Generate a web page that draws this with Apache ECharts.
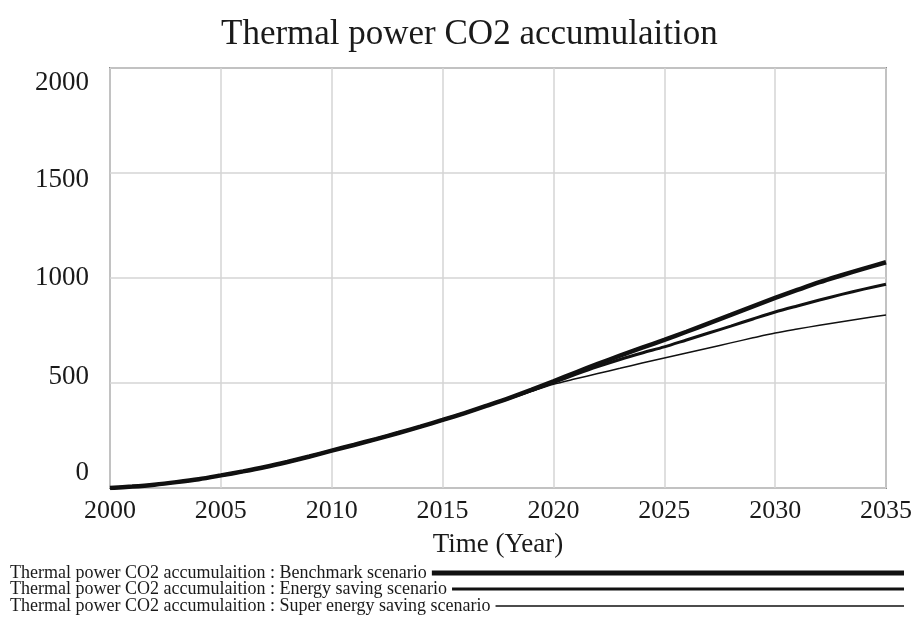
<!DOCTYPE html>
<html>
<head>
<meta charset="utf-8">
<script src="https://cdn.jsdelivr.net/npm/echarts@6/dist/echarts.min.js"></script>
<style>html,body{margin:0;padding:0;background:#fff;}#c{width:915px;height:619px;}</style>
</head>
<body>
<div id="c"></div>
<script>
const years = [2000,2001,2002,2003,2004,2005,2006,2007,2008,2009,2010,2011,2012,2013,2014,2015,2016,2017,2018,2019,2020,2021,2022,2023,2024,2025,2026,2027,2028,2029,2030,2031,2032,2033,2034,2035];
const benchmark = [0,7,16,28,42,60,79,100,124,150,178,205,233,262,292,324,357,392,428,467,508,550,591,630,668,705,744,784,824,865,905,943,980,1013,1045,1075];
const energySaving = [0,7,16,28,42,60,79,100,124,150,178,205,233,262,292,324,357,392,427,464,502,541,578,612,643,672,705,738,771,805,838,867,895,922,947,970];
const superSaving = [0,7,16,28,42,60,79,100,124,150,178,205,233,262,292,324,357,392,425,460,494,520,545,570,595,619,643,667,691,715,738,757,775,792,808,824];
const seriesNames = [
  'Thermal power CO2 accumulaition : Benchmark scenario',
  'Thermal power CO2 accumulaition : Energy saving scenario',
  'Thermal power CO2 accumulaition : Super energy saving scenario'
];
const yTicks = [0, 500, 1000, 1500, 2000];
const xTicks = [2000, 2005, 2010, 2015, 2020, 2025, 2030, 2035];

const FONT = '"Liberation Serif", "Times New Roman", serif';
const INK = '#1a1a1a';
const pair = arr => years.map((y, i) => [y, arr[i]]);

// legend geometry: text from x=10, line ends at x=905
const legendFont = 18;
const ctx = document.createElement('canvas').getContext('2d');
ctx.font = legendFont + 'px "Liberation Serif"';
const widths = [5, 3.2, 1.5];
const tops = [564, 580, 597];
const legends = seriesNames.map((n, i) => {
  const tw = ctx.measureText(n).width;
  return {
    data: [n], left: 10, top: tops[i], padding: 0, align: 'right',
    icon: 'rect', itemWidth: Math.max(20, 905 - 10 - tw - 6), itemHeight: widths[i],
    textStyle: { fontFamily: FONT, fontSize: legendFont, color: INK, lineHeight: 16 },
    selectedMode: false
  };
});

const yShift = { 2000: 15, 1500: 7, 1000: 0, 500: -6, 0: -15 };
const yl = (pad) => ({ fontFamily: FONT, fontSize: 27, color: INK, padding: pad });

const chart = echarts.init(document.getElementById('c'));
chart.setOption({
  animation: false,
  backgroundColor: '#fff',
  title: {
    text: 'Thermal power CO2 accumulaition', left: 216, top: 12,
    textStyle: { fontFamily: FONT, fontSize: 35, fontWeight: 'normal', color: INK }
  },
  legend: legends,
  grid: { left: 110, right: 27, top: 68, bottom: 131, show: true, borderColor: '#8c8c8c', borderWidth: 2, backgroundColor: 'transparent' },
  xAxis: {
    type: 'value', min: 2000, max: 2035, interval: 5,
    name: 'Time (Year)', nameLocation: 'middle', nameGap: 43,
    nameTextStyle: { fontFamily: FONT, fontSize: 27, color: INK },
    axisLine: { show: false }, axisTick: { show: false },
    axisLabel: { fontFamily: FONT, fontSize: 26, color: INK, margin: 10, showMinLabel: true, showMaxLabel: true, formatter: v => String(v) },
    splitLine: { show: true, lineStyle: { color: '#d4d4d4', width: 1.5 } }
  },
  yAxis: {
    type: 'value', min: 0, max: 2000, interval: 500,
    axisLine: { show: false }, axisTick: { show: false },
    axisLabel: {
      fontFamily: FONT, fontSize: 27, color: INK, margin: 21,
      formatter: v => {
        const s = yShift[v] || 0;
        return s > 0 ? '{d' + s + '|' + v + '}' : s < 0 ? '{u' + (-s) + '|' + v + '}' : '{n|' + v + '}';
      },
      rich: {
        n: yl([0, 0, 0, 0]),
        d15: yl([30, 0, 0, 0]),
        d7: yl([14, 0, 0, 0]),
        u6: yl([0, 0, 12, 0]),
        u15: yl([0, 0, 30, 0])
      }
    },
    splitLine: { show: true, lineStyle: { color: '#d4d4d4', width: 1.5 } }
  },
  series: [
    { name: seriesNames[0], type: 'line', data: pair(benchmark), showSymbol: false, smooth: 0.3, color: '#111', lineStyle: { width: 4.5, color: '#111' } },
    { name: seriesNames[1], type: 'line', data: pair(energySaving), showSymbol: false, smooth: 0.3, color: '#111', lineStyle: { width: 3, color: '#111' } },
    { name: seriesNames[2], type: 'line', data: pair(superSaving), showSymbol: false, smooth: 0.3, color: '#111', lineStyle: { width: 1.5, color: '#111' } }
  ]
});
</script>
</body>
</html>
